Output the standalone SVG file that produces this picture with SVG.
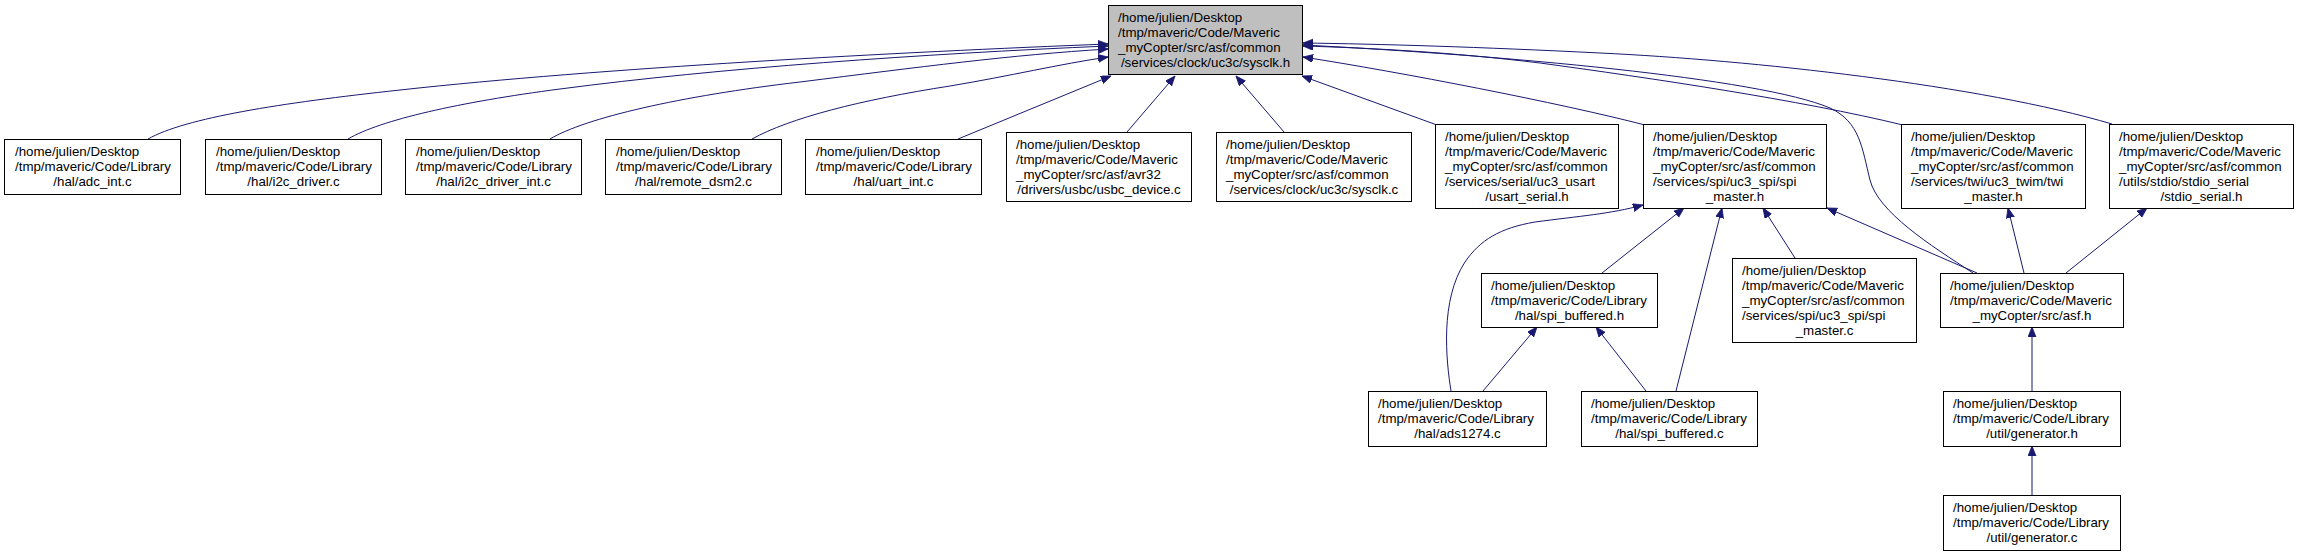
<svg xmlns="http://www.w3.org/2000/svg" width="2299" height="556" viewBox="0 0 2299 556">
<style>
.n rect{fill:#ffffff;stroke:#000000;stroke-width:1}
.m rect{fill:#bfbfbf;stroke:#000000;stroke-width:1}
text{font-family:"Liberation Sans",Arial,sans-serif;font-size:13.3px;fill:#000000}
.c{text-anchor:middle}
#edges path{fill:none;stroke:#191970;stroke-width:1;marker-end:url(#ah)}
</style>
<defs>
<marker id="ah" markerWidth="12" markerHeight="10" refX="10" refY="4" orient="auto" markerUnits="userSpaceOnUse">
<path d="M0,0 L10,4 L0,8 z" fill="#191970" stroke="#191970" stroke-width="0.8"/>
</marker>
</defs>
<rect width="2299" height="556" fill="#ffffff"/>
<g id="edges">
<path d="M148,139 C185,118 280,103 400,90 C600,68 900,52 1108,44"/>
<path d="M348,139 C380,120 460,102 560,89 C720,68 920,54 1108,46"/>
<path d="M550,139 C585,118 680,96 800,82 C920,67 1010,55 1108,49"/>
<path d="M752,139 C790,118 860,100 950,86 C1010,76 1060,64 1108,57"/>
<path d="M958,139 L1111,76"/>
<path d="M1127,132 L1175,76"/>
<path d="M1284,132 L1236,76"/>
<path d="M1437,125 L1302,76"/>
<path d="M1645,125 C1560,103 1400,72 1303,57"/>
<path d="M1903,125 C1800,100 1650,78 1540,63 C1450,52 1370,48 1303,46"/>
<path d="M2112,124 C1980,85 1750,60 1600,53 C1480,47 1380,44 1303,43"/>
<path d="M1973,273 C1930,245 1878,212 1870,180 C1862,148 1860,122 1830,108 C1760,78 1500,55 1303,45"/>
<path d="M1602,273 L1684,208"/>
<path d="M1676,391 L1722,208"/>
<path d="M1795,258 L1763,208"/>
<path d="M1977,273 L1827,208"/>
<path d="M1451,391 C1446,360 1440,300 1465,262 C1480,240 1500,228 1535,222 C1580,216 1610,214 1643,205"/>
<path d="M1483,391 L1537,327"/>
<path d="M1646,391 L1596,327"/>
<path d="M2024,273 L2008,208"/>
<path d="M2066,273 L2147,208"/>
<path d="M2032,391 L2032,327"/>
<path d="M2032,495 L2032,446"/>
</g>
<g id="node_sysclk_h" class="m">
<rect x="1108.5" y="5.5" width="194" height="69"/>
<text x="1118" y="21.5">/home/julien/Desktop</text>
<text x="1118" y="36.5">/tmp/maveric/Code/Maveric</text>
<text x="1118" y="51.5">_myCopter/src/asf/common</text>
<text class="c" x="1205.5" y="66.5">/services/clock/uc3c/sysclk.h</text>
</g>
<g id="node_adc_int" class="n">
<rect x="4.5" y="139.5" width="176" height="55"/>
<text x="15" y="155.5">/home/julien/Desktop</text>
<text x="15" y="170.5">/tmp/maveric/Code/Library</text>
<text class="c" x="92.5" y="185.5">/hal/adc_int.c</text>
</g>
<g id="node_i2c_driver" class="n">
<rect x="205.5" y="139.5" width="176" height="55"/>
<text x="216" y="155.5">/home/julien/Desktop</text>
<text x="216" y="170.5">/tmp/maveric/Code/Library</text>
<text class="c" x="293.5" y="185.5">/hal/i2c_driver.c</text>
</g>
<g id="node_i2c_driver_int" class="n">
<rect x="405.5" y="139.5" width="176" height="55"/>
<text x="416" y="155.5">/home/julien/Desktop</text>
<text x="416" y="170.5">/tmp/maveric/Code/Library</text>
<text class="c" x="493.5" y="185.5">/hal/i2c_driver_int.c</text>
</g>
<g id="node_remote_dsm2" class="n">
<rect x="605.5" y="139.5" width="176" height="55"/>
<text x="616" y="155.5">/home/julien/Desktop</text>
<text x="616" y="170.5">/tmp/maveric/Code/Library</text>
<text class="c" x="693.5" y="185.5">/hal/remote_dsm2.c</text>
</g>
<g id="node_uart_int" class="n">
<rect x="805.5" y="139.5" width="176" height="55"/>
<text x="816" y="155.5">/home/julien/Desktop</text>
<text x="816" y="170.5">/tmp/maveric/Code/Library</text>
<text class="c" x="893.5" y="185.5">/hal/uart_int.c</text>
</g>
<g id="node_usbc_device" class="n">
<rect x="1006.5" y="132.5" width="185" height="69"/>
<text x="1016" y="148.5">/home/julien/Desktop</text>
<text x="1016" y="163.5">/tmp/maveric/Code/Maveric</text>
<text x="1016" y="178.5">_myCopter/src/asf/avr32</text>
<text class="c" x="1099" y="193.5">/drivers/usbc/usbc_device.c</text>
</g>
<g id="node_sysclk_c" class="n">
<rect x="1216.5" y="132.5" width="195" height="69"/>
<text x="1226" y="148.5">/home/julien/Desktop</text>
<text x="1226" y="163.5">/tmp/maveric/Code/Maveric</text>
<text x="1226" y="178.5">_myCopter/src/asf/common</text>
<text class="c" x="1314" y="193.5">/services/clock/uc3c/sysclk.c</text>
</g>
<g id="node_usart_serial" class="n">
<rect x="1435.5" y="124.5" width="183" height="84"/>
<text x="1445" y="140.5">/home/julien/Desktop</text>
<text x="1445" y="155.5">/tmp/maveric/Code/Maveric</text>
<text x="1445" y="170.5">_myCopter/src/asf/common</text>
<text x="1445" y="185.5">/services/serial/uc3_usart</text>
<text class="c" x="1527" y="200.5">/usart_serial.h</text>
</g>
<g id="node_spi_master_h" class="n">
<rect x="1643.5" y="124.5" width="183" height="84"/>
<text x="1653" y="140.5">/home/julien/Desktop</text>
<text x="1653" y="155.5">/tmp/maveric/Code/Maveric</text>
<text x="1653" y="170.5">_myCopter/src/asf/common</text>
<text x="1653" y="185.5">/services/spi/uc3_spi/spi</text>
<text class="c" x="1735" y="200.5">_master.h</text>
</g>
<g id="node_twi_master" class="n">
<rect x="1901.5" y="124.5" width="184" height="84"/>
<text x="1911" y="140.5">/home/julien/Desktop</text>
<text x="1911" y="155.5">/tmp/maveric/Code/Maveric</text>
<text x="1911" y="170.5">_myCopter/src/asf/common</text>
<text x="1911" y="185.5">/services/twi/uc3_twim/twi</text>
<text class="c" x="1993.5" y="200.5">_master.h</text>
</g>
<g id="node_stdio_serial" class="n">
<rect x="2109.5" y="124.5" width="184" height="84"/>
<text x="2119" y="140.5">/home/julien/Desktop</text>
<text x="2119" y="155.5">/tmp/maveric/Code/Maveric</text>
<text x="2119" y="170.5">_myCopter/src/asf/common</text>
<text x="2119" y="185.5">/utils/stdio/stdio_serial</text>
<text class="c" x="2201.5" y="200.5">/stdio_serial.h</text>
</g>
<g id="node_spi_buffered_h" class="n">
<rect x="1481.5" y="273.5" width="176" height="54"/>
<text x="1491" y="289.5">/home/julien/Desktop</text>
<text x="1491" y="304.5">/tmp/maveric/Code/Library</text>
<text class="c" x="1569.5" y="319.5">/hal/spi_buffered.h</text>
</g>
<g id="node_spi_master_c" class="n">
<rect x="1732.5" y="258.5" width="184" height="84"/>
<text x="1742" y="274.5">/home/julien/Desktop</text>
<text x="1742" y="289.5">/tmp/maveric/Code/Maveric</text>
<text x="1742" y="304.5">_myCopter/src/asf/common</text>
<text x="1742" y="319.5">/services/spi/uc3_spi/spi</text>
<text class="c" x="1824.5" y="334.5">_master.c</text>
</g>
<g id="node_asf_h" class="n">
<rect x="1940.5" y="273.5" width="183" height="54"/>
<text x="1950" y="289.5">/home/julien/Desktop</text>
<text x="1950" y="304.5">/tmp/maveric/Code/Maveric</text>
<text class="c" x="2032" y="319.5">_myCopter/src/asf.h</text>
</g>
<g id="node_ads1274" class="n">
<rect x="1368.5" y="391.5" width="178" height="55"/>
<text x="1378" y="407.5">/home/julien/Desktop</text>
<text x="1378" y="422.5">/tmp/maveric/Code/Library</text>
<text class="c" x="1457.5" y="437.5">/hal/ads1274.c</text>
</g>
<g id="node_spi_buffered_c" class="n">
<rect x="1581.5" y="391.5" width="176" height="55"/>
<text x="1591" y="407.5">/home/julien/Desktop</text>
<text x="1591" y="422.5">/tmp/maveric/Code/Library</text>
<text class="c" x="1669.5" y="437.5">/hal/spi_buffered.c</text>
</g>
<g id="node_generator_h" class="n">
<rect x="1943.5" y="391.5" width="177" height="55"/>
<text x="1953" y="407.5">/home/julien/Desktop</text>
<text x="1953" y="422.5">/tmp/maveric/Code/Library</text>
<text class="c" x="2032" y="437.5">/util/generator.h</text>
</g>
<g id="node_generator_c" class="n">
<rect x="1943.5" y="495.5" width="177" height="55"/>
<text x="1953" y="511.5">/home/julien/Desktop</text>
<text x="1953" y="526.5">/tmp/maveric/Code/Library</text>
<text class="c" x="2032" y="541.5">/util/generator.c</text>
</g>
</svg>
